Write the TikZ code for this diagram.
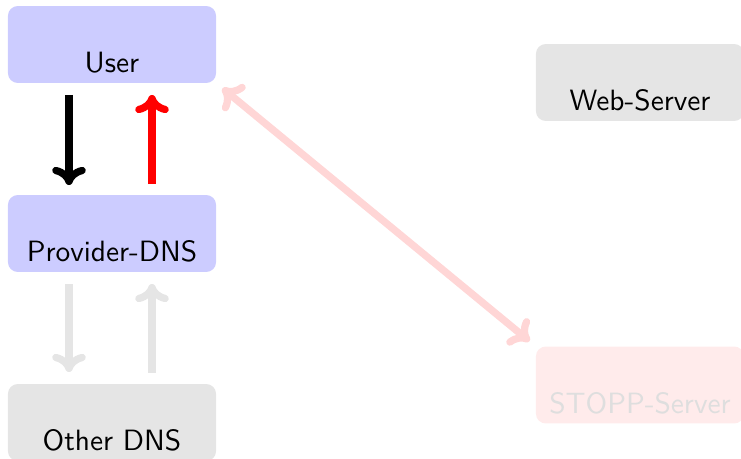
\documentclass[tikz,border=0pt]{standalone}
\usetikzlibrary{arrows.meta}
\begin{document}
\begin{tikzpicture}[x=0.3575pt,y=-0.3575pt,
  box/.style={rounded corners=3.5pt, minimum width=74.4pt, minimum height=27.5pt, inner sep=0pt, outer sep=0pt},
  lbl/.style={anchor=base, font=\sffamily\fontsize{10.5}{12}\selectfont, inner sep=0pt},
  tip/.style={},
  arr/.style={line width=2.6pt, -{To[round,length=6.5pt,width=12pt]}},
  darr/.style={line width=2.6pt, {To[round,length=6.5pt,width=12pt]}-{To[round,length=6.5pt,width=12pt]}}]
\useasboundingbox (0,0) rectangle (741,459);
\begin{scope}
\clip (0,0) rectangle (741,459);
\node[box, fill=blue!20] (User) at (112,44.5) {};
\node[box, fill=blue!20] (Prov) at (112,233.5) {};
\node[box, fill=black!10] (Other) at (112,422.5) {};
\node[box, fill=black!10] (Web) at (640,82.5) {};
\node[box, fill=red!8] (Stopp) at (640,385) {};
\end{scope}
\node[lbl] (tUser) at ([shift={(0,-10)}]User.south) {User};
\node[lbl] (tProv) at ([shift={(0,-10)}]Prov.south) {Provider-DNS};
\node[lbl] (tOther) at ([shift={(0,-10)}]Other.south) {Other DNS};
\node[lbl] (tWeb) at ([shift={(0,-10)}]Web.south) {Web-Server};
\node[lbl, text=black!13] (tStopp) at ([shift={(0,-10)}]Stopp.south) {STOPP-Server};
\draw[arr] ([shift={(-43,12)}]User.south) -- ([shift={(-43,-10)}]Prov.north);
\draw[arr, red] ([shift={(40,-11)}]Prov.north) -- ([shift={(40,12)}]User.south);
\draw[arr, black!10] ([shift={(-43,12)}]Prov.south) -- ([shift={(-43,-12)}]Other.north);
\draw[arr, black!10] ([shift={(40,-11)}]Other.north) -- ([shift={(40,12)}]Prov.south);
\draw[darr, red!16, shorten <=3pt, shorten >=3pt] (User.south east) -- (Stopp.north west);
\end{tikzpicture}
\end{document}
